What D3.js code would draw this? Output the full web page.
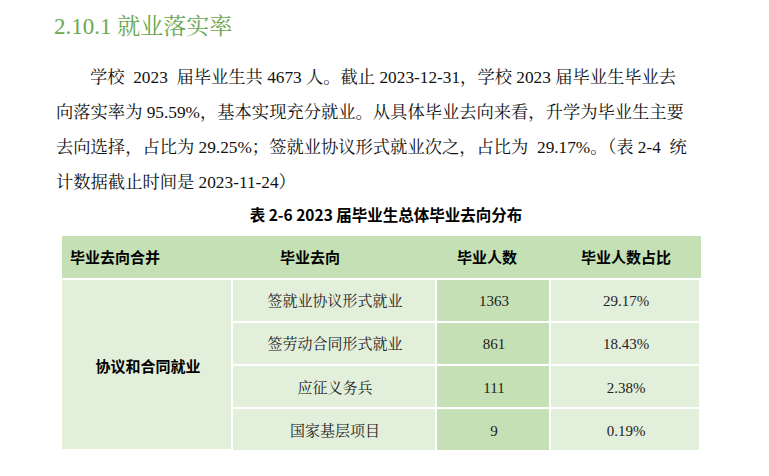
<!DOCTYPE html>
<html><head><meta charset="utf-8">
<script src="https://cdn.jsdelivr.net/npm/d3@7"></script>
<style>body{margin:0;background:#fff}</style></head>
<body><svg id="c" width="769" height="476"></svg>
<script>
const headers = ["毕业去向合并","毕业去向","毕业人数","毕业人数占比"];
const groupName = "协议和合同就业";
const destinations = ["签就业协议形式就业","签劳动合同形式就业","应征义务兵","国家基层项目"];
const counts = [1363, 861, 111, 9];
const ratios = ["29.17%","18.43%","2.38%","0.19%"];
const paragraph = [
 ["学校  2023  届毕业生共 4673 人。截止 2023-12-31，学校 2023 届毕业生毕业去", 90],
 ["向落实率为 95.59%，基本实现充分就业。从具体毕业去向来看，升学为毕业生主要", 56],
 ["去向选择，占比为 29.25%；签就业协议形式就业次之，占比为  29.17%。（表 2-4  统", 56],
 ["计数据截止时间是 2023-11-24）", 56]
];
const svg = d3.select("#c");
const serif = "'Liberation Serif','Noto Serif CJK SC','Noto Sans CJK SC',serif";
svg.append("text").attr("x",54).attr("y",34).attr("fill","#6aa84f")
  .attr("font-size",23).attr("font-family",serif).text("2.10.1 就业落实率");
const ly = d3.scalePoint().domain(d3.range(paragraph.length)).range([83,188]);
svg.selectAll("text.p").data(paragraph).join("text").attr("class","p")
  .attr("x",d=>d[1]).attr("y",(d,i)=>ly(i)).attr("font-size",17.3)
  .attr("font-family",serif).attr("fill","#111").attr("xml:space","preserve").text(d=>d[0]);
svg.append("text").attr("x",386).attr("y",221).attr("text-anchor","middle")
  .attr("font-size",15.5).attr("font-weight","bold").attr("font-family","'Noto Sans CJK SC',sans-serif")
  .text("表 2-6 2023 届毕业生总体毕业去向分布");
const colEdges = [62,233,437,551,701];
const y = d3.scaleBand().domain(d3.range(destinations.length)).range([279,449]).paddingInner(0.05);
const hdrTop = 236, hdrBot = 278;
const dark = "#c5e0b4", light = "#e2efda";
svg.append("rect").attr("x",62).attr("y",hdrTop).attr("width",639).attr("height",hdrBot-hdrTop).attr("fill",dark);
const hx = [70, 310, 487, 626];
svg.selectAll("text.h").data(headers).join("text").attr("class","h")
  .attr("x",(d,i)=>hx[i]).attr("y",(hdrTop+hdrBot)/2+6).attr("text-anchor",(d,i)=>i?"middle":"start")
  .attr("font-size",15).attr("font-weight","bold").attr("font-family","'Noto Sans CJK SC',sans-serif").text(d=>d);
svg.append("rect").attr("x",62).attr("y",y(0)+1).attr("width",colEdges[1]-62-2).attr("height",y(3)+y.bandwidth()-y(0)-1).attr("fill",light);
svg.append("text").attr("x",148).attr("y",372).attr("text-anchor","middle").attr("font-size",15)
  .attr("font-weight","bold").attr("font-family","'Noto Sans CJK SC',sans-serif").text(groupName);
const cols = [[destinations,light],[counts,dark],[ratios,light]];
cols.forEach((c,ci)=>{
  const x0 = colEdges[ci+1], x1 = colEdges[ci+2];
  const g = svg.append("g");
  g.selectAll("rect").data(c[0]).join("rect").attr("x",x0).attr("y",(d,i)=>y(i)+1)
    .attr("width",x1-x0-2).attr("height",y.bandwidth()).attr("fill",c[1]);
  g.selectAll("text").data(c[0]).join("text").attr("x",(x0+x1)/2).attr("y",(d,i)=>y(i)+y.bandwidth()/2+7)
    .attr("text-anchor","middle").attr("font-size",15).attr("font-family",serif).attr("fill","#222").text(d=>d);
});
</script></body></html>
